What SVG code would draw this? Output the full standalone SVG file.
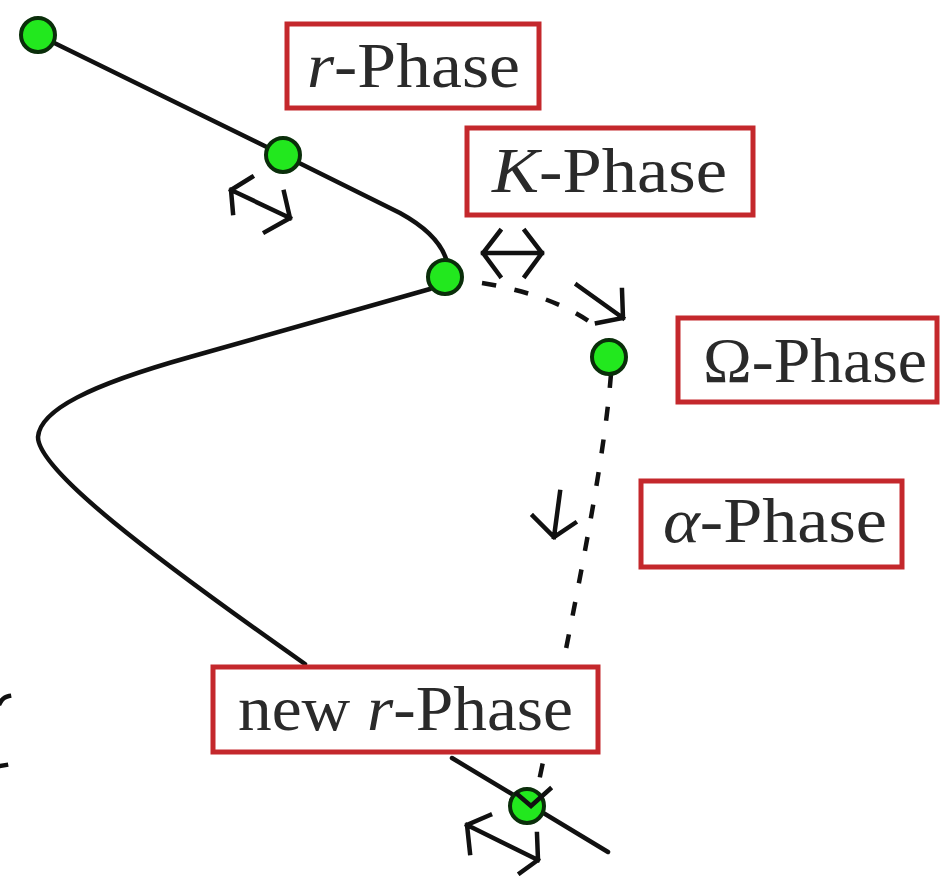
<svg xmlns="http://www.w3.org/2000/svg" width="940" height="876" viewBox="0 0 940 876">
<style>
.curve{fill:none;stroke:#111;stroke-width:4.5;stroke-linecap:round}
.dash{fill:none;stroke:#111;stroke-width:4.5;stroke-dasharray:14 19}
.glyph{fill:none;stroke:#111;stroke-width:4.5;stroke-linecap:square;stroke-linejoin:miter}
.dot{fill:#22e81e;stroke:#0a2e0a;stroke-width:4}
.box{fill:#fff;stroke:#c4282c;stroke-width:5}
.lbl{font-family:"Liberation Serif","DejaVu Serif",serif;font-size:64px;fill:#2a2a2a}
.it{font-style:italic}
</style>
<rect width="940" height="876" fill="#fff"/>
<g id="connectors">
  <path class="curve" d="M38,35 L283,155 L400,213 Q440,235 447,262"/>
  <path class="curve" d="M430,289 L190,357 C90,385 40,410 38,437 C38,470 150,555 305,664"/>
  <path class="curve" d="M452,758 L608,852"/>
  <path class="dash" d="M482,283 Q555,295 597,327"/>
  <path class="dash" d="M611,374 C605,450 585,560 538,786"/>
  <path class="glyph" d="M231,190 L290,218 M233,213 L231,190 L252,177 M284,192 L290,218 L265,232"/>
  <path class="glyph" d="M483,253 L542,253 M500,231 L483,253 L500,276 M525,231 L542,253 L525,276"/>
  <path class="glyph" d="M577,285 L623,318 M622,290 L623,318 L597,323"/>
  <path class="glyph" d="M560,492 L554,537 M533,516 L554,537 L575,523"/>
  <path class="glyph" d="M467,825 L538,860 M470,853 L467,825 L490,815 M537,834 L538,860 L520,873"/>
  <path class="glyph" d="M0,703 Q3,697 9,696 M0,766 L6,765"/>
</g>
<g id="dot1"><circle class="dot" cx="38" cy="35" r="17"/></g>
<g id="dot2"><circle class="dot" cx="283" cy="155" r="17"/></g>
<g id="dot3"><circle class="dot" cx="445" cy="277" r="17"/></g>
<g id="dot4"><circle class="dot" cx="609" cy="357" r="17"/></g>
<g id="dot5"><circle class="dot" cx="527" cy="806" r="17"/><path class="glyph" d="M517,794 L531,806 L550,789"/></g>
<g id="r-phase"><rect class="box" x="287" y="24" width="252" height="84"/><text class="lbl" x="307" y="87" textLength="213" lengthAdjust="spacingAndGlyphs"><tspan class="it">r</tspan>-Phase</text></g>
<g id="k-phase"><rect class="box" x="467" y="128" width="286" height="87"/><text class="lbl" x="492" y="192" textLength="235" lengthAdjust="spacingAndGlyphs"><tspan class="it">K</tspan>-Phase</text></g>
<g id="omega-phase"><rect class="box" x="678" y="318" width="259" height="84"/><text class="lbl" x="703" y="382" textLength="224" lengthAdjust="spacingAndGlyphs">Ω-Phase</text></g>
<g id="alpha-phase"><rect class="box" x="641" y="481" width="261" height="86"/><text class="lbl" x="663" y="542" textLength="224" lengthAdjust="spacingAndGlyphs"><tspan class="it">α</tspan>-Phase</text></g>
<g id="new-r-phase"><rect class="box" x="213" y="667" width="385" height="85"/><text class="lbl" x="238" y="730" textLength="335" lengthAdjust="spacingAndGlyphs">new <tspan class="it">r</tspan>-Phase</text></g>
</svg>
